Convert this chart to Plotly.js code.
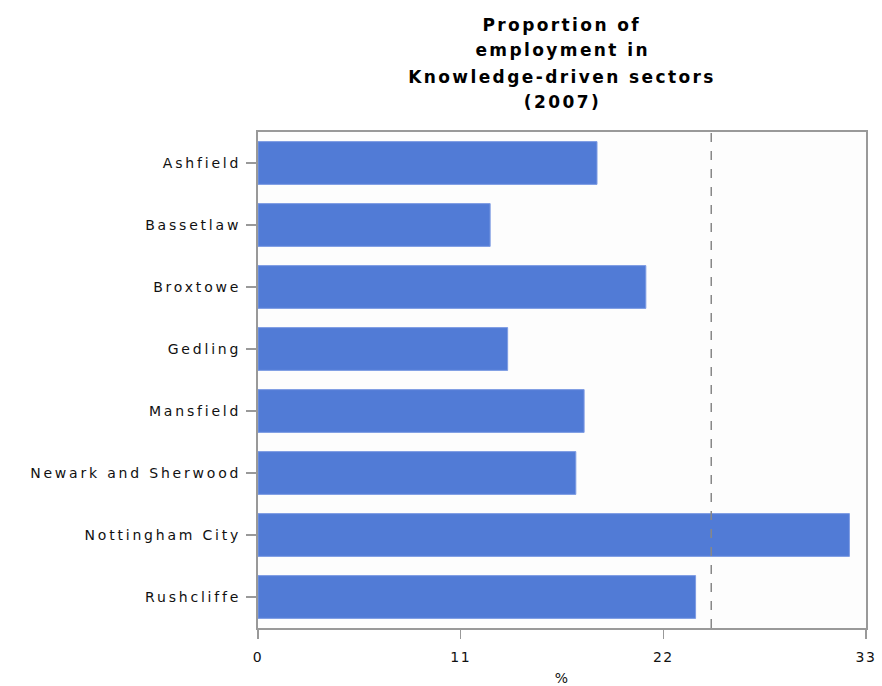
<!DOCTYPE html>
<html>
<head>
<meta charset="utf-8">
<script src="https://cdn.plot.ly/plotly-3.0.1.min.js"></script>
<style>
html,body{margin:0;padding:0;background:#fff;}
#chart{width:882px;height:686px;}
#chart .ytick text{letter-spacing:2.8px;}
#chart .xtick text{letter-spacing:1.5px;}
#chart .annotation-text{letter-spacing:2.4px;}
#chart .g-xtitle text{letter-spacing:1px;}
</style>
</head>
<body>
<div id="chart"></div>
<script>
const districts = ["Ashfield","Bassetlaw","Broxtowe","Gedling","Mansfield","Newark and Sherwood","Nottingham City","Rushcliffe"];
const shares = [18.4, 12.6, 21.05, 13.55, 17.7, 17.25, 32.1, 23.75];
const referenceValue = 24.6;
const xTicks = [0, 11, 22, 33];
const titleLines = ["Proportion of", "employment in", "Knowledge-driven sectors", "(2007)"];

const trace = {
  type: "bar",
  orientation: "h",
  x: shares,
  y: districts,
  marker: {color: "#517BD6", line: {color: "#7E9CE3", width: 1}},
  hoverinfo: "x+y"
};

const titleShifts = [107, 82, 55, 30];
const annotations = titleLines.map((t, i) => ({
  text: "<b>" + t + "</b>",
  xref: "paper", yref: "paper", x: 0.5, y: 1,
  xanchor: "center", yanchor: "middle", yshift: titleShifts[i],
  showarrow: false,
  font: {family: "DejaVu Sans, Verdana, sans-serif", size: 17, color: "#000"}
}));

const layout = {
  width: 882, height: 686,
  margin: {l: 258, r: 16, t: 132, b: 58},
  paper_bgcolor: "#ffffff",
  plot_bgcolor: "#fdfdfd",
  showlegend: false,
  bargap: 0.31,
  font: {family: "DejaVu Sans, Verdana, sans-serif", size: 13, color: "#111"},
  annotations: annotations,
  xaxis: {
    range: [0, 33],
    tickvals: xTicks,
    ticktext: xTicks.map(String),
    ticks: "outside", ticklen: 9, tickwidth: 1.5, tickcolor: "#999",
    showline: true, linecolor: "#999", linewidth: 2, mirror: true,
    showgrid: false, zeroline: false,
    tickfont: {size: 14, color: "#111"},
    ticklabelstandoff: 6,
    title: {text: "%", font: {size: 14, color: "#111"}, standoff: 12}
  },
  yaxis: {
    autorange: "reversed",
    ticks: "outside", ticklen: 10, tickwidth: 1.5, tickcolor: "#999",
    showline: true, linecolor: "#999", linewidth: 2, mirror: true,
    showgrid: false, zeroline: false,
    tickfont: {size: 14, color: "#111"},
    ticklabelstandoff: 2
  },
  shapes: [{
    type: "line", xref: "x", yref: "paper",
    x0: referenceValue, x1: referenceValue, y0: 0, y1: 1,
    line: {color: "#888", width: 1.5, dash: "dash"}
  }]
};

Plotly.newPlot("chart", [trace], layout, {displayModeBar: false, staticPlot: true});
</script>
</body>
</html>
